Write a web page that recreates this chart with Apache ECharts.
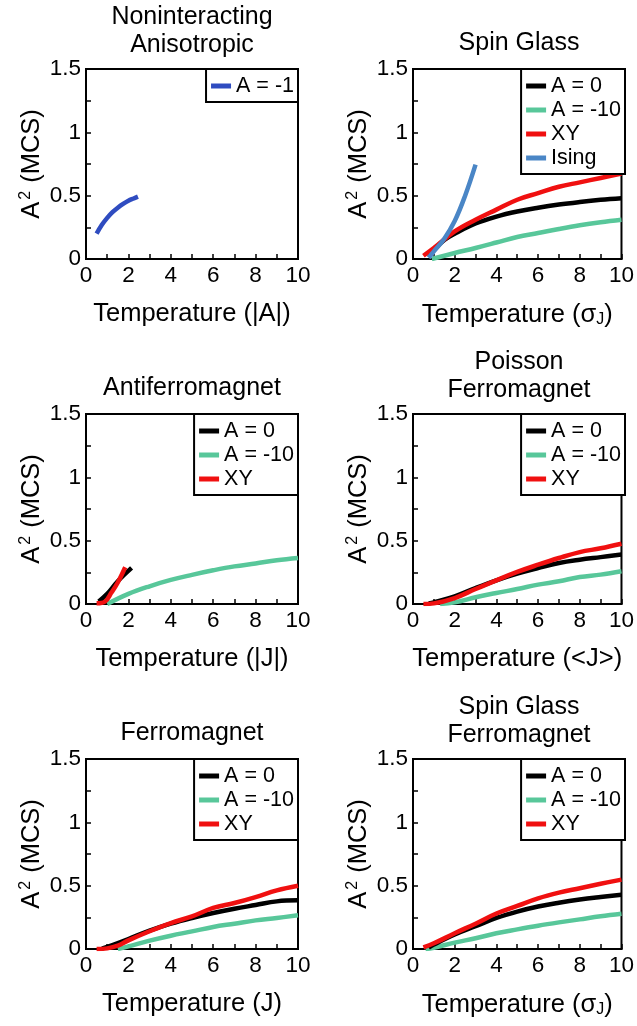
<!DOCTYPE html>
<html>
<head>
<meta charset="utf-8">
<script src="https://cdn.jsdelivr.net/npm/echarts@6/dist/echarts.min.js"></script>
<style>html,body{margin:0;padding:0;background:#fff}#c{width:637px;height:1026px}</style>
</head>
<body>
<div id="c"></div>
<script>
// ---------- data ----------
const xTicks = [0, 2, 4, 6, 8, 10];
const yTicks = [0, 0.5, 1, 1.5];

// Panel 1: Noninteracting Anisotropic
const p1_Am1_T = [0.5, 0.75, 1, 1.25, 1.5, 1.75, 2, 2.25, 2.45];
const p1_Am1_A = [0.2, 0.27, 0.325, 0.37, 0.405, 0.435, 0.46, 0.478, 0.492];

// Panel 2: Spin Glass
const p2_A0_T = [0.75, 1, 1.5, 2, 3, 4, 5, 6, 7, 8, 9, 10];
const p2_A0_A = [0.02, 0.07, 0.15, 0.2, 0.28, 0.335, 0.375, 0.405, 0.43, 0.45, 0.467, 0.48];
const p2_Am10_T = [0.9, 2, 3, 4, 5, 6, 7, 8, 9, 10];
const p2_Am10_A = [0, 0.047, 0.087, 0.13, 0.174, 0.205, 0.237, 0.266, 0.29, 0.31];
const p2_XY_T = [0.5, 1, 2, 3, 4, 5, 6, 7, 8, 9, 10];
const p2_XY_A = [0.026, 0.087, 0.218, 0.31, 0.39, 0.468, 0.52, 0.57, 0.605, 0.64, 0.674];
const p2_Ising_T = [0.75, 1, 1.5, 2, 2.5, 3];
const p2_Ising_A = [0.01, 0.06, 0.16, 0.30, 0.50, 0.745];

// Panel 3: Antiferromagnet
const p3_A0_T = [0.6, 1, 1.5, 2.15];
const p3_A0_A = [0.02, 0.08, 0.18, 0.285];
const p3_Am10_T = [1, 2, 3, 4, 5, 6, 7, 8, 9, 10];
const p3_Am10_A = [0, 0.08, 0.14, 0.19, 0.23, 0.266, 0.297, 0.32, 0.345, 0.363];
const p3_XY_T = [0.5, 0.9, 1.2, 1.5, 1.85];
const p3_XY_A = [0.005, 0.02, 0.09, 0.17, 0.29];

// Panel 4: Poisson Ferromagnet
const p4_A0_T = [0.75, 1, 2, 3, 4, 5, 6, 7, 8, 9, 10];
const p4_A0_A = [0.005, 0.013, 0.06, 0.126, 0.187, 0.24, 0.284, 0.324, 0.35, 0.37, 0.39];
const p4_Am10_T = [1.3, 2, 3, 4, 5, 6, 7, 8, 9, 10];
const p4_Am10_A = [0, 0.013, 0.053, 0.087, 0.118, 0.153, 0.179, 0.213, 0.232, 0.258];
const p4_XY_T = [0.5, 1, 2, 3, 4, 5, 6, 7, 8, 9, 10];
const p4_XY_A = [0, 0.005, 0.047, 0.118, 0.187, 0.253, 0.31, 0.363, 0.41, 0.44, 0.476];

// Panel 5: Ferromagnet
const p5_A0_T = [0.75, 1, 2, 3, 4, 5, 6, 7, 8, 9, 10];
const p5_A0_A = [0.003, 0.016, 0.079, 0.145, 0.2, 0.245, 0.284, 0.318, 0.347, 0.376, 0.384];
const p5_Am10_T = [1.5, 2, 3, 4, 5, 6, 7, 8, 9, 10];
const p5_Am10_A = [0, 0.021, 0.066, 0.105, 0.139, 0.174, 0.2, 0.226, 0.245, 0.266];
const p5_XY_T = [0.5, 1, 1.5, 2, 3, 4, 5, 6, 7, 8, 9, 10];
const p5_XY_A = [0, 0.005, 0.026, 0.068, 0.14, 0.205, 0.258, 0.324, 0.363, 0.41, 0.463, 0.5];

// Panel 6: Spin Glass Ferromagnet
const p6_A0_T = [0.75, 1, 2, 3, 4, 5, 6, 7, 8, 9, 10];
const p6_A0_A = [0.01, 0.035, 0.115, 0.18, 0.245, 0.295, 0.335, 0.365, 0.39, 0.41, 0.428];
const p6_Am10_T = [0.6, 1, 2, 3, 4, 5, 6, 7, 8, 9, 10];
const p6_Am10_A = [0, 0.01, 0.05, 0.085, 0.124, 0.155, 0.184, 0.21, 0.234, 0.258, 0.278];
const p6_XY_T = [0.5, 1, 2, 3, 4, 5, 6, 7, 8, 9, 10];
const p6_XY_A = [0.013, 0.045, 0.124, 0.2, 0.28, 0.34, 0.4, 0.445, 0.48, 0.515, 0.548];

const titles = ['Noninteracting\nAnisotropic', 'Spin Glass', 'Antiferromagnet', 'Poisson\nFerromagnet', 'Ferromagnet', 'Spin Glass\nFerromagnet'];
const xNames = ['Temperature (|A|)', 'Temperature (σ{sub|J})', 'Temperature (|J|)', 'Temperature (<J>)', 'Temperature (J)', 'Temperature (σ{sub|J})'];
const yName = 'A{sup|2} (MCS)';

// ---------- style / layout ----------
const FONT = 'Liberation Sans, Arial, Helvetica, sans-serif';
const COL = { 'A = -1': '#2f4cc0', 'A = 0': '#000000', 'A = -10': '#58c79a', 'XY': '#f01010', 'Ising': '#4a86c6' };
const gridPos = [
  { left: 86, top: 69 }, { left: 413, top: 69 },
  { left: 86, top: 414 }, { left: 413, top: 414 },
  { left: 86, top: 759 }, { left: 413, top: 759 }
];
const titleTop = [3, 29, 374, 348, 719, 693];
const GW = 212, GH = 190;

const panels = [
  [['A = -1', p1_Am1_T, p1_Am1_A]],
  [['A = 0', p2_A0_T, p2_A0_A], ['A = -10', p2_Am10_T, p2_Am10_A], ['XY', p2_XY_T, p2_XY_A], ['Ising', p2_Ising_T, p2_Ising_A]],
  [['A = -10', p3_Am10_T, p3_Am10_A], ['A = 0', p3_A0_T, p3_A0_A], ['XY', p3_XY_T, p3_XY_A]],
  [['A = -10', p4_Am10_T, p4_Am10_A], ['A = 0', p4_A0_T, p4_A0_A], ['XY', p4_XY_T, p4_XY_A]],
  [['A = -10', p5_Am10_T, p5_Am10_A], ['A = 0', p5_A0_T, p5_A0_A], ['XY', p5_XY_T, p5_XY_A]],
  [['A = -10', p6_Am10_T, p6_Am10_A], ['A = 0', p6_A0_T, p6_A0_A], ['XY', p6_XY_T, p6_XY_A]]
];
const legendOrder = [
  ['A = -1'],
  ['A = 0', 'A = -10', 'XY', 'Ising'],
  ['A = 0', 'A = -10', 'XY'], ['A = 0', 'A = -10', 'XY'], ['A = 0', 'A = -10', 'XY'], ['A = 0', 'A = -10', 'XY']
];

const grid = [], xAxis = [], yAxis = [], series = [], legend = [], title = [];
const tickLine = { color: '#000', width: 1.5 };
panels.forEach((p, i) => {
  const g = gridPos[i];
  grid.push({ left: g.left, top: g.top, width: GW, height: GH, show: true, borderColor: '#000', borderWidth: 2, containLabel: false });
  title.push({
    text: titles[i], left: g.left + GW / 2, top: titleTop[i], textAlign: 'center', padding: 0,
    textStyle: { fontFamily: FONT, fontSize: 25, fontWeight: 'normal', color: '#000', lineHeight: 28 }
  });
  xAxis.push({
    type: 'value', gridIndex: i, min: xTicks[0], max: xTicks[xTicks.length - 1], interval: 2,
    name: xNames[i], nameLocation: 'middle', nameGap: 42,
    nameTextStyle: { fontFamily: FONT, fontSize: 25.5, color: '#000',
      rich: { sub: { fontFamily: FONT, fontSize: 16, color: '#000', verticalAlign: 'bottom', padding: [11, 0, 0, 0] } } },
    axisLine: { show: true, onZero: false, lineStyle: { color: '#000', width: 2 } },
    axisTick: { show: true, inside: true, length: 5, lineStyle: tickLine },
    minorTick: { show: true, splitNumber: 2, length: 5, lineStyle: tickLine },
    splitLine: { show: false },
    axisLabel: { fontFamily: FONT, fontSize: 22.5, color: '#000', margin: 5 }
  });
  yAxis.push({
    type: 'value', gridIndex: i, min: yTicks[0], max: yTicks[yTicks.length - 1], interval: 0.5,
    name: yName, nameLocation: 'middle', nameGap: 40,
    nameTextStyle: { fontFamily: FONT, fontSize: 25.5, color: '#000',
      rich: { sup: { fontFamily: FONT, fontSize: 16, color: '#000', verticalAlign: 'top', padding: [0, 1, 12, 2] } } },
    axisLine: { show: true, onZero: false, lineStyle: { color: '#000', width: 2 } },
    axisTick: { show: true, inside: true, length: 5, lineStyle: tickLine },
    minorTick: { show: true, splitNumber: 2, length: 5, lineStyle: tickLine },
    splitLine: { show: false },
    axisLabel: { fontFamily: FONT, fontSize: 22.5, color: '#000', margin: 5 }
  });
  p.forEach(([name, T, A]) => {
    series.push({
      type: 'line', name, xAxisIndex: i, yAxisIndex: i, symbol: 'none', smooth: 0.4,
      data: T.map((t, k) => [t, A[k]]),
      itemStyle: { color: COL[name] }, lineStyle: { color: COL[name], width: 4.5, cap: 'butt', join: 'round' }, z: 2
    });
  });
  legend.push({
    data: legendOrder[i], orient: 'vertical', align: 'left',
    right: 637 - (g.left + GW), top: g.top,
    backgroundColor: '#fff', borderColor: '#000', borderWidth: 2, padding: [5, 4, 4, 5],
    icon: 'rect', itemWidth: 20, itemHeight: 5, itemGap: 0, itemTextGap: 7,
    selectedMode: false, z: 10,
    textStyle: { fontFamily: FONT, fontSize: 21.5, color: '#000', lineHeight: 24 }
  });
});

const chart = echarts.init(document.getElementById('c'), null, { renderer: 'canvas' });
chart.setOption({ animation: false, backgroundColor: '#fff', title, grid, xAxis, yAxis, legend, series });
</script>
</body>
</html>
